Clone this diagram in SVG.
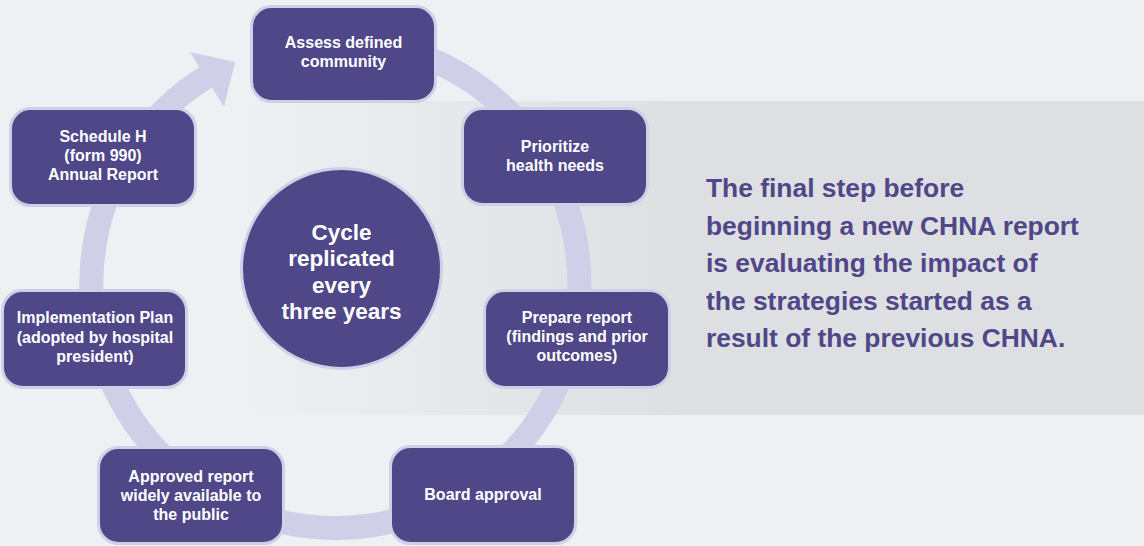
<svg xmlns="http://www.w3.org/2000/svg" width="1144" height="546" viewBox="0 0 1144 546">
  <defs>
    <linearGradient id="bandGrad" x1="240" y1="0" x2="1144" y2="0" gradientUnits="userSpaceOnUse">
      <stop offset="0" stop-color="#eff0f4"/>
      <stop offset="0.5" stop-color="#dedfe3"/>
      <stop offset="1" stop-color="#dedfe3"/>
    </linearGradient>
    <style>
      .box { fill: #4f4788; stroke: #d1cee7; stroke-width: 3; }
      .lbl { fill: #ffffff; font-family: "Liberation Sans", Arial, sans-serif; font-weight: bold; font-size: 16px; text-anchor: middle; }
      .big { fill: #ffffff; font-family: "Liberation Sans", Arial, sans-serif; font-weight: bold; font-size: 22.5px; text-anchor: middle; }
      .side { fill: #4f4788; font-family: "Liberation Sans", Arial, sans-serif; font-weight: bold; font-size: 26.4px; }
      .ring { fill: none; stroke: #d1cee7; stroke-width: 24; }
    </style>
  </defs>
  <rect x="0" y="0" width="1144" height="546" fill="#eff0f4"/>
  <rect x="240" y="101" width="904" height="314" fill="url(#bandGrad)"/>

  <g id="connectors">
    <path class="ring" d="M 335.5 40 A 244 244 0 1 1 209.8 74.8"/>
    <polygon points="190,52 235,62 224,107" fill="#d1cee7"/>
  </g>

  <g id="node-assess">
    <rect class="box" x="251.5" y="6.5" width="184" height="95" rx="20"/>
    <text class="lbl" x="343.5" y="48">Assess defined</text>
    <text class="lbl" x="343.5" y="67">community</text>
  </g>
  <g id="node-prioritize">
    <rect class="box" x="462.5" y="108.5" width="185" height="96" rx="20"/>
    <text class="lbl" x="555" y="152">Prioritize</text>
    <text class="lbl" x="555" y="171">health needs</text>
  </g>
  <g id="node-prepare">
    <rect class="box" x="484.5" y="290.5" width="185" height="97" rx="20"/>
    <text class="lbl" x="577" y="323">Prepare report</text>
    <text class="lbl" x="577" y="342">(findings and prior</text>
    <text class="lbl" x="577" y="361">outcomes)</text>
  </g>
  <g id="node-board">
    <rect class="box" x="390.5" y="446.5" width="185" height="97" rx="20"/>
    <text class="lbl" x="483" y="500">Board approval</text>
  </g>
  <g id="node-approved">
    <rect class="box" x="98.5" y="447.5" width="185" height="96" rx="20"/>
    <text class="lbl" x="191" y="482">Approved report</text>
    <text class="lbl" x="191" y="501">widely available to</text>
    <text class="lbl" x="191" y="520">the public</text>
  </g>
  <g id="node-implementation">
    <rect class="box" x="2.5" y="290.5" width="184" height="97" rx="20"/>
    <text class="lbl" x="95" y="323">Implementation Plan</text>
    <text class="lbl" x="95" y="343">(adopted by hospital</text>
    <text class="lbl" x="95" y="362">president)</text>
  </g>
  <g id="node-schedule">
    <rect class="box" x="10.5" y="108.5" width="185" height="97" rx="20"/>
    <text class="lbl" x="103" y="142">Schedule H</text>
    <text class="lbl" x="103" y="161">(form 990)</text>
    <text class="lbl" x="103" y="180">Annual Report</text>
  </g>
  <g id="node-cycle">
    <circle class="box" cx="341.5" cy="268.5" r="100"/>
    <text class="big" x="341.5" y="239.5">Cycle</text>
    <text class="big" x="341.5" y="266">replicated</text>
    <text class="big" x="341.5" y="292.5">every</text>
    <text class="big" x="341.5" y="319">three years</text>
  </g>
  <g id="side-note">
    <text class="side" x="706" y="197">The final step before</text>
    <text class="side" x="706" y="234.5">beginning a new CHNA report</text>
    <text class="side" x="706" y="272">is evaluating the impact of</text>
    <text class="side" x="706" y="309.5">the strategies started as a</text>
    <text class="side" x="706" y="347">result of the previous CHNA.</text>
  </g>
</svg>
